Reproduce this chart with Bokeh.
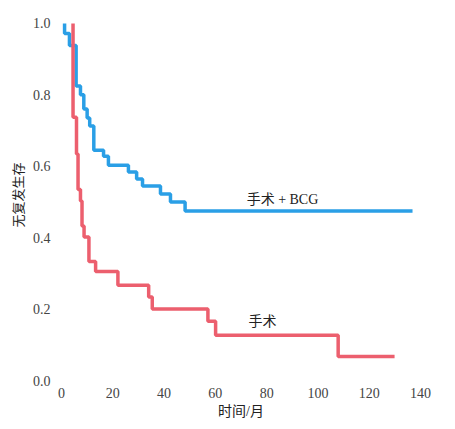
from bokeh.plotting import figure
from bokeh.models import Range1d, FixedTicker, NumeralTickFormatter
from bokeh.core.properties import value
from bokeh.embed import file_html
from bokeh.resources import INLINE

# Kaplan-Meier style step data (months, survival)
bcg_t = [1.2, 1.2, 3.1, 5.7, 7.4, 8.7, 10.0, 11.0, 12.6, 16.4, 18.3, 26.1, 29.3, 31.6, 38.6, 42.5, 48.2, 136.9]
bcg_s = [1.0, 0.972, 0.938, 0.825, 0.80, 0.76, 0.735, 0.713, 0.645, 0.628, 0.603, 0.584, 0.564, 0.545, 0.522, 0.50, 0.475, 0.475]

surg_t = [4.5, 4.5, 5.85, 6.45, 7.4, 8.0, 8.8, 10.7, 13.3, 22.0, 34.0, 35.4, 57.1, 60.1, 107.9, 129.9]
surg_s = [1.0, 0.737, 0.634, 0.535, 0.503, 0.433, 0.402, 0.333, 0.305, 0.267, 0.234, 0.20, 0.166, 0.127, 0.067, 0.067]

x_ticks = [0, 20, 40, 60, 80, 100, 120, 140]
y_ticks = [0.0, 0.2, 0.4, 0.6, 0.8, 1.0]

label_text = ["手术 + BCG", "手术"]
label_x = [72.2, 72.9]
label_y = [0.507, 0.164]

NUM_FONT = "Liberation Serif"
CJK_FONT = "Liberation Serif, Noto Sans CJK SC"

p = figure(width=447, height=421, output_backend="svg", toolbar_location=None,
           x_range=Range1d(-0.39, 140.4), y_range=Range1d(-0.0028, 1.0418),
           min_border_left=60, min_border_right=26, min_border_top=8, min_border_bottom=38)

p.step(bcg_t, bcg_s, mode="after", line_color="#2a9fe6", line_width=3.5)
p.step(surg_t, surg_s, mode="after", line_color="#ec5f6e", line_width=3.5)

p.text(x=label_x, y=label_y, text=label_text, text_align="left", text_baseline="middle",
       text_font=value(CJK_FONT), text_font_size="14px", text_color="#222222")

p.grid.visible = False
p.outline_line_color = None
p.background_fill_color = "white"
p.border_fill_color = "white"

for ax in (p.xaxis[0], p.yaxis[0]):
    ax.axis_line_color = None
    ax.major_tick_line_color = None
    ax.minor_tick_line_color = None
    ax.major_label_text_font = NUM_FONT
    ax.major_label_text_font_size = "14px"
    ax.major_label_text_color = "#444444"
    ax.axis_label_text_font = CJK_FONT
    ax.axis_label_text_font_style = "normal"
    ax.axis_label_text_color = "#222222"

p.xaxis.ticker = FixedTicker(ticks=x_ticks)
p.yaxis.ticker = FixedTicker(ticks=y_ticks)
p.yaxis.formatter = NumeralTickFormatter(format="0.0")
p.xaxis.axis_label = "时间/月"
p.yaxis.axis_label = "无复发生存"
p.xaxis.axis_label_text_font_size = "14px"
p.yaxis.axis_label_text_font_size = "13px"
p.xaxis.major_label_standoff = 0
p.xaxis.axis_label_standoff = 3
p.yaxis.major_label_standoff = 4
p.yaxis.axis_label_standoff = 4

open("out.html", "w").write(file_html(p, INLINE))
